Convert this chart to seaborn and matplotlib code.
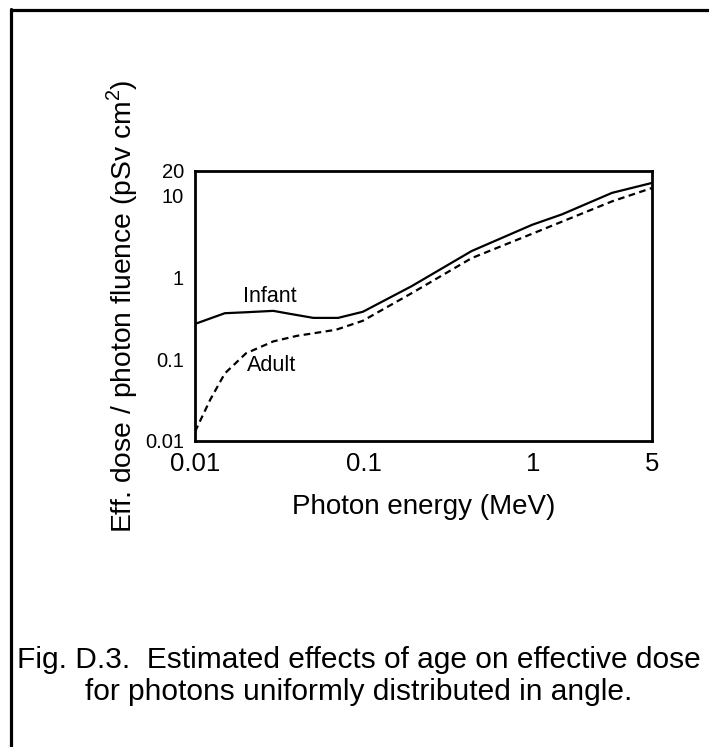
import matplotlib
matplotlib.use("Agg")
import matplotlib.pyplot as plt
from matplotlib.lines import Line2D
from matplotlib.ticker import FixedLocator, FixedFormatter, NullLocator
import seaborn as sns
import pandas as pd

# ---- data ----
infant_energy = [0.01, 0.015, 0.020, 0.029, 0.036, 0.050, 0.070, 0.098, 0.19, 0.43, 0.98, 1.47, 2.9, 5.0]
infant_dose = [0.27, 0.365, 0.375, 0.39, 0.36, 0.32, 0.32, 0.38, 0.78, 2.1, 4.4, 5.9, 10.8, 14.3]

adult_energy = [0.01, 0.0123, 0.015, 0.020, 0.029, 0.040, 0.068, 0.098, 0.19, 0.43, 0.98, 2.9, 5.0]
adult_dose = [0.013, 0.032, 0.067, 0.118, 0.165, 0.193, 0.229, 0.295, 0.64, 1.72, 3.42, 8.5, 12.4]

x_ticks = [0.01, 0.1, 1, 5]
x_tick_labels = ["0.01", "0.1", "1", "5"]
y_ticks = [0.01, 0.1, 1, 10, 20]
y_tick_labels = ["0.01", "0.1", "1", "10", "20"]

x_label = "Photon energy (MeV)"
y_label = "Eff. dose / photon fluence (pSv cm$^2$)"
caption = ["Fig. D.3.  Estimated effects of age on effective dose",
           "for photons uniformly distributed in angle."]

df = pd.DataFrame({
    "energy": infant_energy + adult_energy,
    "dose": infant_dose + adult_dose,
    "group": ["Infant"] * len(infant_energy) + ["Adult"] * len(adult_energy),
})

sns.set_style("white")
plt.rcParams["font.family"] = ["Liberation Sans", "DejaVu Sans"]
plt.rcParams["mathtext.fontset"] = "custom"
plt.rcParams["mathtext.rm"] = "Liberation Sans"
for k in ["text.color", "axes.labelcolor", "xtick.color", "ytick.color", "axes.edgecolor"]:
    plt.rcParams[k] = "black"

W, H = 709, 747
fig = plt.figure(figsize=(W / 100, H / 100), dpi=100)
ax = fig.add_axes([195 / W, 1 - 441 / H, (652 - 195) / W, (441 - 171) / H])

sns.lineplot(data=df, x="energy", y="dose", style="group",
             dashes={"Infant": "", "Adult": (3, 2)},
             color="black", linewidth=1.6, sort=False, legend=False,
             estimator=None, ax=ax)

ax.set_xscale("log")
ax.set_yscale("log")
ax.set_xlim(0.01, 5)
ax.set_ylim(0.01, 20)

ax.xaxis.set_major_locator(FixedLocator(x_ticks))
ax.xaxis.set_major_formatter(FixedFormatter(x_tick_labels))
ax.xaxis.set_minor_locator(NullLocator())
ax.yaxis.set_major_locator(FixedLocator(y_ticks))
ax.yaxis.set_major_formatter(FixedFormatter(y_tick_labels))
ax.yaxis.set_minor_locator(NullLocator())

for s in ax.spines.values():
    s.set_visible(True)
    s.set_linewidth(2.0)
    s.set_color("black")

ax.tick_params(axis="both", which="major", direction="in", length=6, width=1.8,
               color="black", labelcolor="black")
ax.tick_params(axis="x", labelsize=18.5, pad=8)
ax.tick_params(axis="y", labelsize=14.5, pad=8)

ax.set_xlabel(x_label, fontsize=20)
ax.set_ylabel(y_label, fontsize=20.3)
ax.xaxis.set_label_coords(0.5, (441 - 494) / 270)
ax.yaxis.set_label_coords((140 - 195) / 457, 0.5)

ax.text(0.0275, 0.58, "Infant", fontsize=15.5, ha="center", va="center")
ax.text(0.0283, 0.083, "Adult", fontsize=15.5, ha="center", va="center")

# caption
fig.text(359 / W, 1 - 668 / H, caption[0], fontsize=21.5, ha="center", va="baseline")
fig.text(359 / W, 1 - 700 / H, caption[1], fontsize=21.5, ha="center", va="baseline")

# page border (top and left)
fig.add_artist(Line2D([11 / W, 1.0], [1 - 9.5 / H, 1 - 9.5 / H], color="black",
                      linewidth=2.3, transform=fig.transFigure))
fig.add_artist(Line2D([11 / W, 11 / W], [0.0, 1 - 8.5 / H], color="black",
                      linewidth=2.3, transform=fig.transFigure))

fig.savefig("out.png", dpi=100, facecolor="white")
